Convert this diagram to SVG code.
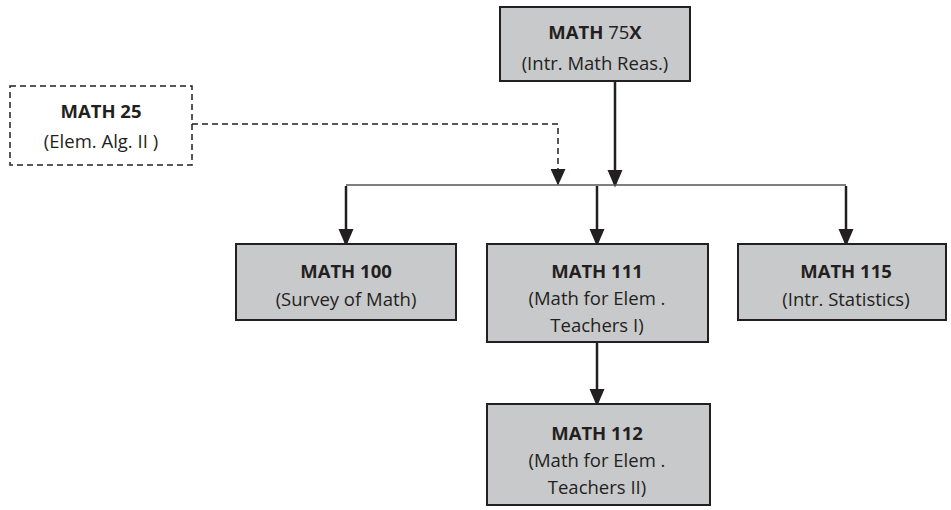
<svg xmlns="http://www.w3.org/2000/svg" width="951" height="510" viewBox="0 0 951 510">
<style>
.box{fill:#c8c9cb;stroke:#231f20;stroke-width:2}
.dbox{fill:#fff;stroke:#231f20;stroke-width:1.5;stroke-dasharray:6 4}
text{font-family:"Open Sans","Noto Sans",sans-serif;font-size:18.5px;fill:#231f20;text-anchor:middle}
.b{font-weight:bold}
.arr{stroke:#231f20;stroke-width:2.5;fill:none;marker-end:url(#ah)}
.darr{stroke:#231f20;stroke-width:1.5;fill:none;stroke-dasharray:6 4;marker-end:url(#ahs)}
.bus{stroke:#555;stroke-width:1.5;fill:none}
</style>
<defs>
<marker id="ah" markerWidth="7" markerHeight="7" refX="6" refY="3" orient="auto" markerUnits="strokeWidth" viewBox="0 0 7 6">
<path d="M0,0 L7,3 L0,6 Z" fill="#231f20"/>
</marker>
<marker id="ahs" markerWidth="11" markerHeight="10" refX="10" refY="5" orient="auto" markerUnits="strokeWidth" viewBox="0 0 11 10">
<path d="M0,0 L11,5 L0,10 Z" fill="#231f20"/>
</marker>
</defs>
<g id="connectors">
<path class="arr" d="M615,81 V185"/>
<path class="darr" d="M192,124 H558 V184"/>
<path class="bus" d="M346,185 H846"/>
<path class="arr" d="M346,186 V244"/>
<path class="arr" d="M597,186 V244"/>
<path class="arr" d="M846,186 V244"/>
<path class="arr" d="M597,342 V404"/>
</g>
<g id="math75x">
<rect class="box" x="500" y="7" width="190" height="74"/>
<text x="595" y="39"><tspan class="b">MATH</tspan> 75<tspan class="b">X</tspan></text>
<text x="595" y="70">(Intr. Math Reas.)</text>
</g>
<g id="math25">
<rect class="dbox" x="10" y="86" width="182" height="79"/>
<text x="101" y="118" class="b">MATH 25</text>
<text x="101" y="148">(Elem. Alg. II )</text>
</g>
<g id="math100">
<rect class="box" x="236" y="244" width="220" height="76"/>
<text x="346" y="278" class="b">MATH 100</text>
<text x="346" y="306">(Survey of Math)</text>
</g>
<g id="math111">
<rect class="box" x="487" y="244" width="221" height="98"/>
<text x="597" y="278" class="b">MATH 111</text>
<text x="597" y="305">(Math for Elem .</text>
<text x="597" y="332">Teachers I)</text>
</g>
<g id="math115">
<rect class="box" x="738" y="244" width="208" height="76"/>
<text x="846" y="278" class="b">MATH 115</text>
<text x="846" y="306">(Intr. Statistics)</text>
</g>
<g id="math112">
<rect class="box" x="487" y="404" width="223" height="101"/>
<text x="597" y="440" class="b">MATH 112</text>
<text x="597" y="467">(Math for Elem .</text>
<text x="597" y="494">Teachers II)</text>
</g>
</svg>
